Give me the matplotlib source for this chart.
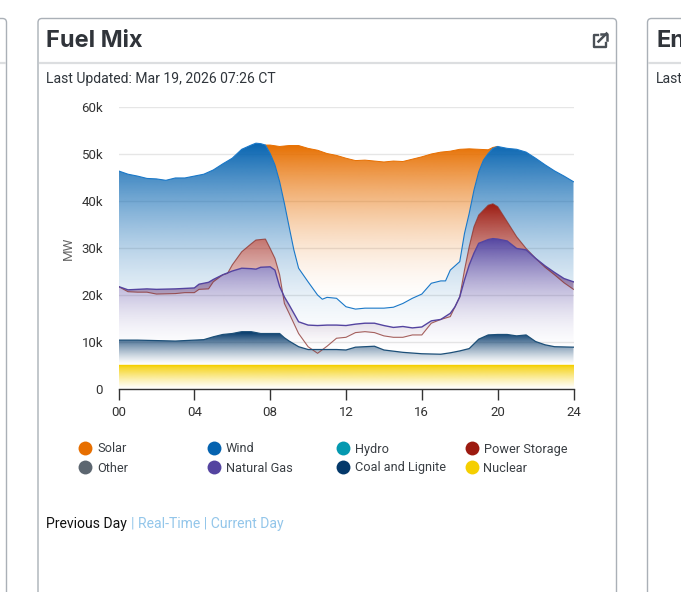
import numpy as np
import matplotlib
matplotlib.use('Agg')
import matplotlib.pyplot as plt
from matplotlib.colors import to_rgb
from matplotlib.patches import FancyBboxPatch, Polygon

# values in thousands of MW (stacked tops)
wind_hours = [0, 0.5, 1, 1.5, 2, 2.5, 3, 3.5, 4, 4.5, 5, 5.5, 6, 6.5, 7, 7.25, 7.5, 7.75, 8, 8.25, 8.5, 8.75, 9, 9.25, 9.5, 10, 10.5, 10.75, 11, 11.5, 12, 12.5, 13, 13.5, 14, 14.5, 15, 15.5, 16, 16.5, 17, 17.25, 17.5, 18, 18.25, 18.5, 18.75, 19, 19.25, 19.5, 19.75, 20, 20.5, 21, 21.5, 22, 22.5, 23, 23.5, 24]
wind_top = [46.4, 45.7, 45.3, 44.8, 44.7, 44.4, 44.9, 44.9, 45.3, 45.7, 46.6, 47.9, 49.1, 51, 51.9, 52.3, 52.2, 51.9, 50.1, 47.7, 44.1, 39.5, 34.5, 29.6, 25.7, 22.8, 20, 19.1, 19.5, 19.3, 17.5, 17, 17.2, 17.2, 17.2, 17.4, 18.2, 19.3, 20.2, 22.5, 23, 23, 25.3, 27.1, 33.1, 37.4, 42.3, 46.2, 48.7, 50.1, 51.2, 51.6, 51.2, 51, 50.4, 49.1, 47.7, 46.4, 45.3, 44.1]

solar_hours = [7.75, 8, 8.5, 9, 9.5, 10, 10.5, 11, 11.5, 12, 12.5, 13, 13.5, 14, 14.5, 15, 15.5, 16, 16.5, 17, 17.5, 18, 18.5, 19, 19.5, 19.75, 20]
solar_top = [51.9, 51.9, 51.6, 51.8, 51.8, 51.2, 50.8, 50.1, 49.7, 49.1, 48.6, 48.7, 48.5, 48.3, 48.5, 48.4, 48.9, 49.4, 50, 50.4, 50.6, 51, 51.1, 51, 50.9, 51.4, 51.6]

gas_hours = [0, 0.5, 1, 1.5, 2, 3, 3.5, 4, 4.25, 4.75, 5, 5.5, 6, 6.5, 7, 7.25, 7.5, 8, 8.25, 8.5, 8.75, 9, 9.25, 9.5, 10, 10.5, 11, 11.5, 12, 12.5, 13, 13.5, 14, 14.5, 15, 15.5, 16, 16.5, 17, 17.5, 17.75, 18, 18.25, 18.5, 18.75, 19, 19.5, 19.75, 20, 20.5, 21, 21.5, 22, 22.5, 23, 23.5, 24]
gas_top = [21.8, 21.1, 21.2, 21.3, 21.2, 21.3, 21.4, 21.5, 22.3, 22.7, 23.3, 24.3, 25.1, 25.7, 25.6, 25.5, 25.9, 26, 25.3, 21.8, 19.6, 17.9, 16.1, 14.3, 13.6, 13.5, 13.6, 13.6, 13.5, 13.8, 14, 14, 13.5, 13.1, 13.3, 13, 13.2, 14.5, 14.8, 16.1, 17.5, 19.6, 23.2, 26.4, 28.9, 31, 31.8, 32, 31.9, 31.5, 29.9, 29.6, 27.8, 26.2, 24.8, 23.5, 22.8]

storage_hours = [0, 0.5, 1, 1.5, 2, 3, 3.5, 4, 4.25, 4.75, 5, 5.5, 5.75, 6, 6.5, 7, 7.25, 7.75, 8, 8.25, 8.5, 8.75, 9, 9.5, 10, 10.5, 11, 11.5, 12, 12.5, 13, 13.5, 14, 14.5, 15, 15.5, 16, 16.5, 17, 17.5, 17.75, 18, 18.25, 18.5, 18.75, 19, 19.5, 19.75, 20, 20.5, 21, 21.5, 22, 22.5, 23, 23.5, 24]
storage_top = [21.8, 20.7, 20.6, 20.6, 20.2, 20.3, 20.5, 20.5, 21.2, 21.3, 22.8, 24.3, 24.6, 26.4, 29.2, 30.9, 31.7, 31.9, 29.9, 27.8, 24.3, 18.2, 16.1, 11.8, 9, 7.6, 9.1, 10.8, 11, 12, 12.2, 12, 11.3, 11, 11, 11.5, 11.5, 14, 14.8, 15.4, 17.5, 19.6, 25.3, 30.3, 34.5, 37, 39.1, 39.4, 38.8, 35.6, 32.4, 29.9, 27.8, 25.9, 24.3, 22.6, 21.2]

coal_hours = [0, 1, 2, 3, 4, 4.5, 5, 5.5, 6, 6.5, 7, 7.5, 8, 8.5, 8.75, 9, 9.5, 10, 10.5, 11, 11.5, 12, 12.5, 13, 13.5, 14, 15, 16, 17, 17.5, 18, 18.5, 19, 19.5, 20, 20.5, 21, 21.5, 22, 22.5, 23, 24]
coal_top = [10.4, 10.4, 10.3, 10.2, 10.4, 10.5, 11.1, 11.6, 11.8, 12.2, 12.2, 11.8, 11.8, 11.8, 10.9, 10.2, 9, 8.4, 8.4, 8.4, 8.4, 8.3, 8.9, 9, 9.1, 8.3, 7.8, 7.5, 7.4, 7.7, 8.1, 8.6, 10.6, 11.5, 11.6, 11.6, 11.3, 11.5, 10.1, 9.4, 9, 8.9]

nuclear_hours = [0, 24]
nuclear_top = [5.2, 5.2]

legend_names = ['Solar', 'Wind', 'Hydro', 'Power Storage', 'Other', 'Natural Gas', 'Coal and Lignite', 'Nuclear']
legend_colors = ['#e76f00', '#0563b0', '#0499b0', '#9c1a10', '#5c6670', '#5444a0', '#03386a', '#f5cf00']
y_ticks = [0, 10, 20, 30, 40, 50, 60]
y_labels = ['0', '10k', '20k', '30k', '40k', '50k', '60k']
x_ticks = [0, 4, 8, 12, 16, 20, 24]
x_labels = ['00', '04', '08', '12', '16', '20', '24']

W, H = 681, 592
plt.rcParams['font.family'] = ['Roboto', 'DejaVu Sans']
fig = plt.figure(figsize=(W / 100, H / 100), dpi=100)

# page layer in pixel coordinates
page = fig.add_axes([0, 0, 1, 1])
page.set_xlim(0, W)
page.set_ylim(H, 0)
page.axis('off')

card_edge = '#aab0b7'
for x0, x1 in [(-100, 6.5), (38, 616.5), (647.5, 900)]:
    page.add_patch(FancyBboxPatch((x0, 18.5), x1 - x0, 640, boxstyle='round,pad=0,rounding_size=4',
                                  fc='white', ec=card_edge, lw=1))
    page.plot([x0 + 0.5, x1 - 0.5], [63, 63], color='#dcdee0', lw=1.6, solid_capstyle='butt')

page.text(46, 41, 'Fuel Mix', family=['Inter', 'DejaVu Sans'], weight='bold', fontsize=17, color='#30343a', va='center')
page.text(656, 41, 'En', family=['Inter', 'DejaVu Sans'], weight='bold', fontsize=17, color='#30343a', va='center')
page.text(46, 79, 'Last Updated: Mar 19, 2026 07:26 CT', fontsize=10.1, color='#2f353b', va='center')
page.text(656, 79, 'Last', fontsize=10.1, color='#2f353b', va='center')

# open-in-new icon
icon = '#4a5056'
page.plot([597.5, 593.5, 593.5, 605.5, 605.5], [35, 35, 47, 47, 42.5], color=icon, lw=1.7, solid_joinstyle='round')
page.plot([598.5, 606.5], [41.5, 33.5], color=icon, lw=1.8)
page.plot([601, 607, 607], [33.5, 33.5, 39.5], color=icon, lw=1.8)

# legend
leg_x = [85, 214, 343, 471.5]
leg_y = [448, 467]
for i, (name, col) in enumerate(zip(legend_names, legend_colors)):
    px = leg_x[i % 4]
    py = leg_y[i // 4]
    page.scatter([px], [py], s=100, color=col, linewidths=0)
    page.text(px + 12, py + 1, name, fontsize=9.2, color='#3a3f44', va='center')

page.text(46, 524, 'Previous Day', fontsize=10.1, color='#111111', va='center')
page.text(131, 524, '| Real-Time | Current Day', fontsize=10.1, color='#93c6ea', va='center')

# chart
left, right, top, bottom = 118.5, 573.5, 107, 389
ax = fig.add_axes([left / W, 1 - bottom / H, (right - left) / W, (bottom - top) / H])
ax.patch.set_alpha(0)


def gradient_area(xs_top, ys_top, xs_low, ys_low, color, zorder, power=1.8):
    # vertical fade from the top of the band to the bottom of the band
    pts = np.column_stack([list(xs_top) + list(xs_low)[::-1], list(ys_top) + list(ys_low)[::-1]])
    ymax, ymin = pts[:, 1].max(), pts[:, 1].min()
    ramp = np.zeros((256, 1, 4))
    ramp[:, 0, :3] = to_rgb(color)
    ramp[:, 0, 3] = np.linspace(1, 0, 256) ** power
    im = ax.imshow(ramp, extent=[0, 24, ymin, ymax], origin='upper', aspect='auto', zorder=zorder)
    im.set_clip_path(Polygon(pts, transform=ax.transData))


wind_x = np.array(wind_hours)
wind_y = np.array(wind_top)
day = (wind_x >= 7.75) & (wind_x <= 20)

gradient_area(solar_hours, solar_top, wind_x[day], wind_y[day], '#e76f00', 2)
gradient_area(wind_hours, wind_top, storage_hours, storage_top, '#0563b0', 2)
gradient_area(storage_hours, storage_top, gas_hours, gas_top, '#9c1a10', 3)
gradient_area(gas_hours, gas_top, coal_hours, coal_top, '#5444a0', 4)
gradient_area(coal_hours, coal_top, nuclear_hours, nuclear_top, '#03386a', 4, power=1.3)
gradient_area(nuclear_hours, nuclear_top, nuclear_hours, [0, 0], '#f5cf00', 4, power=1.2)

ax.plot(solar_hours, solar_top, color='#e76f00', lw=0.7, zorder=5)
ax.plot(wind_hours, wind_top, color='#1a78c8', lw=0.8, zorder=5)
ax.plot(storage_hours, storage_top, color='#8a2f2a', lw=0.8, alpha=0.75, zorder=6)
ax.plot(gas_hours, gas_top, color='#5444a0', lw=1.0, zorder=7)
ax.plot(coal_hours, coal_top, color='#1c4f78', lw=0.9, zorder=7)
ax.plot(nuclear_hours, nuclear_top, color='#f5cf00', lw=1.0, zorder=7)

ax.set_xlim(0, 24)
ax.set_ylim(0, 60)
ax.set_xticks(x_ticks, x_labels)
ax.set_yticks(y_ticks, y_labels)
ax.grid(axis='y', color='#e6e6e6', lw=1)
ax.set_axisbelow(True)
ax.tick_params(axis='x', length=8, width=1, color='#333333', pad=4, labelsize=9.5, labelcolor='#333333')
ax.tick_params(axis='y', length=0, pad=11, labelsize=9.5, labelcolor='#333333')
for side in ['top', 'left', 'right']:
    ax.spines[side].set_visible(False)
ax.spines['bottom'].set_color('#333333')
ax.spines['bottom'].set_linewidth(1)
page.text(68, 248, 'MW', fontsize=9.5, color='#666666', rotation=90, ha='center', va='center')

fig.savefig('out.png', dpi=100)
